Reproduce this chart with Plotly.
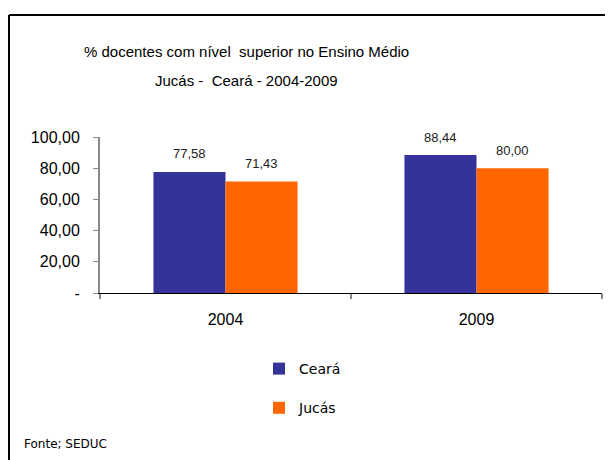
import plotly.graph_objects as go

years = ["2004", "2009"]
ceara = [77.58, 88.44]
jucas = [71.43, 80.00]
series_names = ["Ceará", "Jucás"]
ytick_vals = [0, 20, 40, 60, 80, 100]
ytick_text = ["-", "20,00", "40,00", "60,00", "80,00", "100,00"]
title_lines = ["% docentes com nível  superior no Ensino Médio", "Jucás -  Ceará - 2004-2009"]
source_text = "Fonte; SEDUC"

# the page shows the figure with an 8px body offset
OFF = 8
W, H = 613 - OFF, 460 - OFF
L, T = 100 - OFF, 137 - OFF
R = W - (602 - OFF)
B = H - (293 - OFF)
PW, PH = W - L - R, H - T - B


def px_x(px):  # reference page pixel -> paper
    return (px - OFF - L) / PW


def px_y(py):
    return (H - B - (py - OFF)) / PH


colors = ["#333399", "#FF6600"]
fig = go.Figure()
for i, (name, vals) in enumerate(zip(series_names, [ceara, jucas])):
    fig.add_trace(go.Bar(
        x=years, y=vals, name=name, marker_color=colors[i],
        marker_line_width=0, legendgroup=name,
    ))

annotations = []
for i, vals in enumerate([ceara, jucas]):
    shift = -36 if i == 0 else 36
    for k, v in enumerate(vals):
        annotations.append(dict(
            x=k, y=v, xref="x", yref="y", text=f"{v:.2f}".replace(".", ","),
            showarrow=False, xshift=shift, yshift=18, yanchor="middle",
            font=dict(family="Liberation Sans", size=13, color="#222"),
        ))

annotations.append(dict(x=px_x(246), y=px_y(52), xref="paper", yref="paper",
                        text=title_lines[0], showarrow=False, xanchor="center", yanchor="middle",
                        font=dict(family="Liberation Sans", size=15, color="black")))
annotations.append(dict(x=px_x(246), y=px_y(80), xref="paper", yref="paper",
                        text=title_lines[1], showarrow=False, xanchor="center", yanchor="middle",
                        font=dict(family="Liberation Sans", size=15, color="black")))
annotations.append(dict(x=px_x(22), y=px_y(444), xref="paper", yref="paper",
                        text=source_text, showarrow=False, xanchor="left", yanchor="middle",
                        font=dict(family="DejaVu Sans", size=12, color="black")))

shapes = [
    dict(type="line", xref="paper", yref="paper", x0=px_x(9), x1=px_x(9),
         y0=px_y(15), y1=px_y(480), line=dict(color="black", width=2)),
    dict(type="line", xref="paper", yref="paper", x0=px_x(9), x1=px_x(630),
         y0=px_y(15), y1=px_y(15), line=dict(color="black", width=2)),
]

fig.update_layout(
    width=W, height=H,
    margin=dict(l=L, r=R, t=T, b=B, pad=0),
    paper_bgcolor="white", plot_bgcolor="white",
    barmode="group", bargap=0.426, bargroupgap=0,
    showlegend=True,
    legend=dict(x=px_x(259), y=px_y(353), xanchor="left", yanchor="top",
                orientation="v", tracegroupgap=18,
                font=dict(family="DejaVu Sans", size=14, color="black"),
                bgcolor="rgba(0,0,0,0)"),
    annotations=annotations,
    shapes=shapes,
)
fig.update_xaxes(
    type="category", automargin=False, range=[-0.5, 1.5],
    showline=True, linecolor="black", linewidth=1,
    ticks="outside", tickson="boundaries", ticklen=5, tickcolor="#888888", tickwidth=2,
    tickfont=dict(family="Liberation Sans", size=16, color="black"),
    ticklabelstandoff=12, showgrid=False, tickangle=0,
)
fig.update_yaxes(
    range=[0, 100], tickvals=ytick_vals, ticktext=ytick_text, automargin=False,
    showline=True, linecolor="#888888", linewidth=2,
    ticks="outside", ticklen=5, tickcolor="#888888",
    tickfont=dict(family="Liberation Sans", size=16, color="black"),
    ticklabelstandoff=10, showgrid=False, zeroline=False,
)

fig.write_html("out.html")
